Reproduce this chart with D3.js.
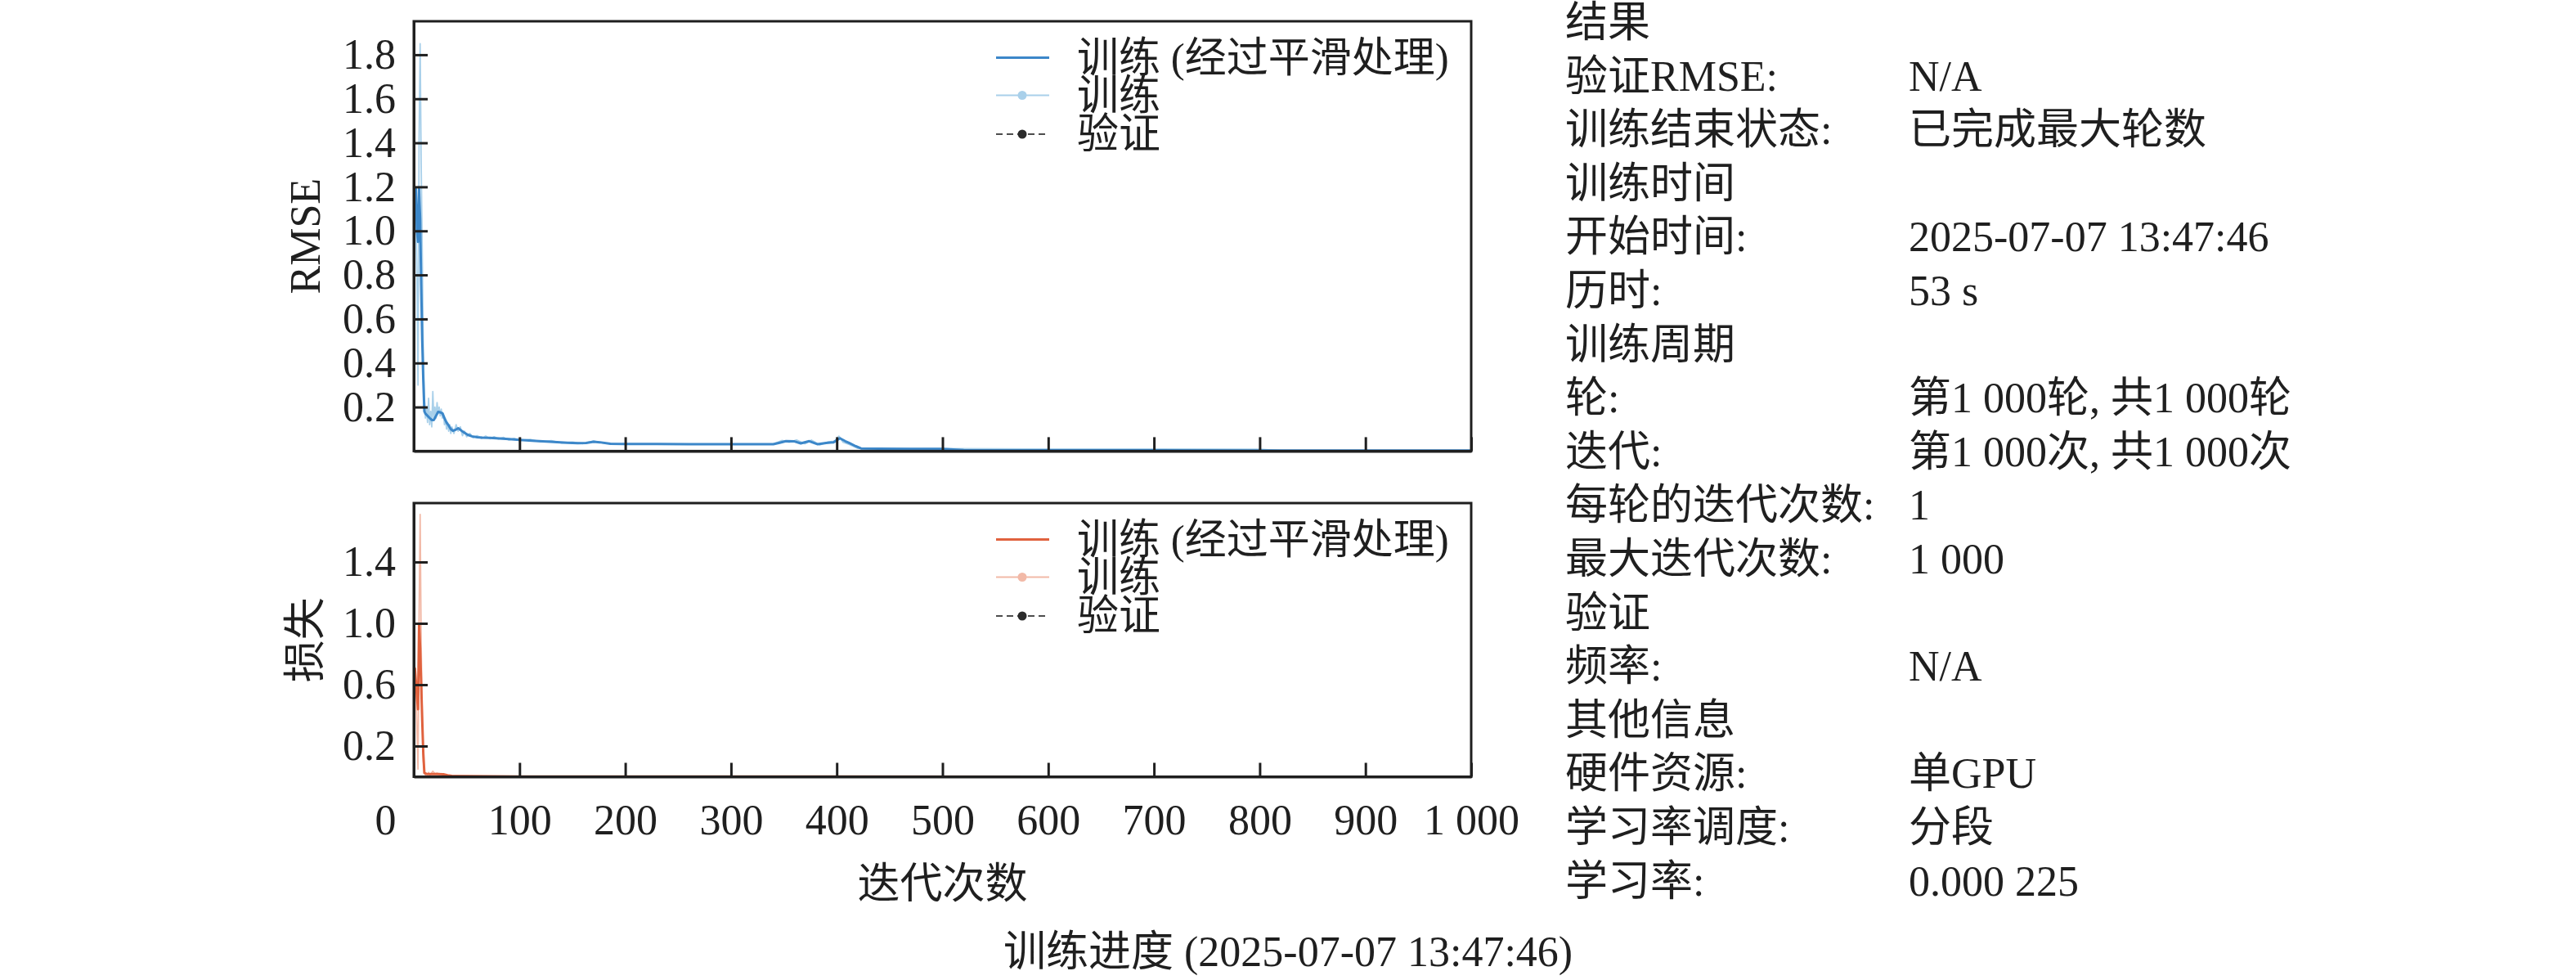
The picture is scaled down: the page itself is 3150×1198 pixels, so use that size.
<!DOCTYPE html>
<html>
<head>
<meta charset="utf-8">
<script src="https://cdn.jsdelivr.net/npm/d3@7"></script>
<style>
  html, body { margin: 0; padding: 0; background: #fff; }
  svg { display: block; }
  text { font-family: "Liberation Serif", "Times New Roman", "Noto Sans CJK SC", serif; fill: #1f1f1f; }
</style>
</head>
<body>
<svg id="chart" width="3150" height="1198"></svg>
<script>
// ---------------- DATA ----------------
const xTicks = [0, 100, 200, 300, 400, 500, 600, 700, 800, 900, 1000];
const xTickLabels = ["0", "100", "200", "300", "400", "500", "600", "700", "800", "900", "1 000"];
const rmseTicks = [0.2, 0.4, 0.6, 0.8, 1.0, 1.2, 1.4, 1.6, 1.8];
const lossTicks = [0.2, 0.6, 1.0, 1.4];

// RMSE smoothed training [iteration, value]
const rmseSmoothed = [
  [1,1.19],[2,1.19],[3,1.0],[4,0.95],[5,1.19],[6,1.05],[7,0.75],[8,0.5],[9,0.32],[10,0.18],
  [11,0.17],[13,0.16],[15,0.15],[17,0.141],[19,0.141],[21,0.16],[23,0.178],[25,0.176],[27,0.172],
  [29,0.15],[31,0.129],[33,0.116],[35,0.1],[37,0.092],[40,0.098],[42,0.104],[45,0.093],[47,0.086],
  [51,0.074],[55,0.067],[60,0.063],[65,0.061],[72,0.06],[78,0.058],[90,0.054],[100,0.051],
  [115,0.046],[129,0.042],[145,0.038],[155,0.036],[163,0.037],[170,0.042],[176,0.04],[186,0.033],
  [200,0.032],[230,0.032],[260,0.031],[300,0.031],[340,0.031],[346,0.038],[352,0.045],[360,0.044],
  [366,0.035],[374,0.045],[382,0.031],[390,0.037],[397,0.04],[403,0.058],[408,0.045],[412,0.036],
  [418,0.022],[423,0.012],[440,0.011],[470,0.01],[500,0.01],[520,0.004],[600,0.003],[700,0.003],
  [800,0.002],[900,0.002],[1000,0.002]
];
// RMSE raw training
const rmseRaw = [
  [1,1.2],[2,1.08],[3,0.78],[4,0.3],[5,1.42],[6,1.85],[7,1.3],[8,0.9],[9,0.45],[10,0.25],
  [11,0.15],[12,0.2],[13,0.13],[14,0.24],[15,0.12],[16,0.18],[17,0.11],[18,0.27],[19,0.14],[20,0.2],
  [21,0.15],[22,0.22],[23,0.17],[24,0.2],[25,0.16],[26,0.19],[27,0.15],[28,0.17],[29,0.12],[30,0.14],
  [31,0.1],[32,0.13],[33,0.09],[34,0.12],[35,0.08],[36,0.11],[38,0.08],[40,0.12],[42,0.09],[44,0.11],
  [46,0.07],[48,0.09],[50,0.065],[53,0.08],[56,0.06],[60,0.07],[64,0.057],[68,0.068],[72,0.056],
  [76,0.065],[80,0.055],[85,0.062],[90,0.05],[95,0.058],[100,0.048],[110,0.053],[120,0.042],
  [130,0.047],[140,0.036],[150,0.041],[160,0.034],[170,0.046],[180,0.035],[190,0.033],[200,0.031],
  [250,0.031],[300,0.031],[340,0.032],[348,0.048],[355,0.04],[362,0.05],[370,0.033],[376,0.05],
  [384,0.028],[392,0.042],[398,0.045],[402,0.068],[406,0.04],[412,0.03],[420,0.012],[450,0.01],
  [500,0.011],[600,0.009],[700,0.009],[800,0.008],[820,0.002],[900,0.002],[1000,0.002]
];
// Loss smoothed training
const lossSmoothed = [
  [1,0.71],[2,0.62],[3,0.52],[4,0.44],[5,0.99],[6,0.84],[7,0.6],[8,0.36],[9,0.15],[10,0.025],
  [12,0.018],[16,0.017],[22,0.017],[28,0.016],[32,0.01],[36,0.006],[50,0.004],[100,0.002],
  [200,0.001],[400,0.0008],[600,0.0003],[800,0.0002],[1000,0.0002]
];
// Loss raw training
const lossRaw = [
  [1,0.72],[2,0.58],[3,0.3],[4,0.05],[5,1.05],[6,1.71],[7,0.85],[8,0.4],[9,0.1],[10,0.03],
  [11,0.011],[12,0.02],[13,0.012],[14,0.028],[15,0.008],[16,0.016],[18,0.036],[20,0.02],[22,0.024],
  [24,0.02],[26,0.018],[28,0.014],[30,0.01],[32,0.007],[36,0.006],[40,0.007],[50,0.003],[100,0.002],
  [200,0.001],[300,0.0005],[400,0.001],[500,0.0001],[1000,0.0001]
];

const legendLabels = ["训练 (经过平滑处理)", "训练", "验证"];
const infoLabels = ["结果","验证RMSE:","训练结束状态:","训练时间","开始时间:","历时:","训练周期","轮:","迭代:",
  "每轮的迭代次数:","最大迭代次数:","验证","频率:","其他信息","硬件资源:","学习率调度:","学习率:"];
const infoValues = ["","N/A","已完成最大轮数","","2025-07-07 13:47:46","53 s","","第1 000轮, 共1 000轮",
  "第1 000次, 共1 000次","1","1 000","","N/A","","单GPU","分段","0.000 225"];
const xLabel = "迭代次数";
const titleText = "训练进度 (2025-07-07 13:47:46)";

// ---------------- LAYOUT ----------------
const svg = d3.select("#chart");
const FS = 52;
const LFS = 51;
const ink = "#1f1f1f";
const left = 506, right = 1799;
const top1 = { y0: 26, y1: 551.4 };
const top2 = { y0: 615, y1: 949.5 };

const x = d3.scaleLinear().domain([0, 1000]).range([left, right]);
const y1 = d3.scaleLinear().domain([0, 1.952]).range([top1.y1, top1.y0]);
const y2 = d3.scaleLinear().domain([0, 1.784]).range([top2.y1, top2.y0]);

const colors = {
  rmseSm: "#3c87c9", rmseRaw: "#a9d0ea",
  lossSm: "#e0623e", lossRaw: "#f2b9a7",
  val: "#4d4d4d", valMk: "#2b2b2b"
};

function panel(id, box, yScale, ticks, smooth, raw, cSm, cRaw, ylabel, showXLabels) {
  const g = svg.append("g");
  const clipId = "clip" + id;
  svg.append("clipPath").attr("id", clipId).append("rect")
    .attr("x", left).attr("y", box.y0).attr("width", right - left).attr("height", box.y1 - box.y0);

  const line = d3.line().x(d => x(d[0])).y(d => yScale(d[1]));
  const lines = g.append("g").attr("clip-path", `url(#${clipId})`);
  lines.append("path").datum(raw).attr("d", line)
    .attr("fill", "none").attr("stroke", cRaw).attr("stroke-width", 1.8).attr("stroke-linejoin", "round");
  lines.append("path").datum(smooth).attr("d", line)
    .attr("fill", "none").attr("stroke", cSm).attr("stroke-width", 3).attr("stroke-linejoin", "round");

  // frame
  g.append("rect").attr("x", left).attr("y", box.y0).attr("width", right - left).attr("height", box.y1 - box.y0)
    .attr("fill", "none").attr("stroke", ink).attr("stroke-width", 3);

  // y axis
  const ya = g.append("g").attr("transform", `translate(${left},0)`)
    .call(d3.axisLeft(yScale).tickValues(ticks).tickFormat(d3.format(".1f")).tickSizeInner(-17).tickSizeOuter(0).tickPadding(22));
  ya.select(".domain").attr("stroke", ink).attr("stroke-width", 3);
  ya.selectAll(".tick line").attr("stroke", ink).attr("stroke-width", 3);
  ya.selectAll(".tick text").attr("font-size", FS).attr("fill", ink)
    .attr("font-family", "'Liberation Serif', 'Times New Roman', serif");

  // x axis
  const xa = g.append("g").attr("transform", `translate(0,${box.y1})`)
    .call(d3.axisBottom(x).tickValues(xTicks)
      .tickFormat((d, i) => showXLabels ? xTickLabels[i] : "")
      .tickSizeInner(-17).tickSizeOuter(0).tickPadding(33.6));
  xa.select(".domain").attr("stroke", ink).attr("stroke-width", 3);
  xa.selectAll(".tick line").attr("stroke", ink).attr("stroke-width", 3);
  xa.selectAll(".tick text").attr("font-size", FS).attr("fill", ink)
    .attr("font-family", "'Liberation Serif', 'Times New Roman', serif");
  if (showXLabels) {
    xa.selectAll(".tick").filter(d => d === 0).select("text")
      .attr("text-anchor", "end").attr("x", -22);
  }

  // y label
  g.append("text").attr("transform", `translate(391,${(box.y0 + box.y1) / 2}) rotate(-90)`)
    .attr("text-anchor", "middle").attr("font-size", FS).text(ylabel);

  // legend
  const lg = g.append("g");
  const lx0 = 1218, lx1 = 1283, lxm = 1250, tx = 1317;
  const ly = [box.y0 + 44.5, box.y0 + 90.5, box.y0 + 138];
  lg.append("line").attr("x1", lx0).attr("x2", lx1).attr("y1", ly[0]).attr("y2", ly[0])
    .attr("stroke", cSm).attr("stroke-width", 3);
  lg.append("line").attr("x1", lx0).attr("x2", lx1).attr("y1", ly[1]).attr("y2", ly[1])
    .attr("stroke", cRaw).attr("stroke-width", 2.2);
  lg.append("circle").attr("cx", lxm).attr("cy", ly[1]).attr("r", 5.5).attr("fill", cRaw);
  lg.append("line").attr("x1", lx0).attr("x2", lx1).attr("y1", ly[2]).attr("y2", ly[2])
    .attr("stroke", colors.val).attr("stroke-width", 2.2).attr("stroke-dasharray", "8,5");
  lg.append("circle").attr("cx", lxm).attr("cy", ly[2]).attr("r", 5.5).attr("fill", colors.valMk);
  legendLabels.forEach((t, i) => {
    lg.append("text").attr("x", tx).attr("y", ly[i] + 17).attr("font-size", LFS).text(t);
  });
}

panel("a", top1, y1, rmseTicks, rmseSmoothed, rmseRaw, colors.rmseSm, colors.rmseRaw, "RMSE", false);
panel("b", top2, y2, lossTicks, lossSmoothed, lossRaw, colors.lossSm, colors.lossRaw, "损失", true);

// x label
svg.append("text").attr("x", (left + right) / 2).attr("y", 1098).attr("text-anchor", "middle")
  .attr("font-size", FS).text(xLabel);
// title
svg.append("text").attr("x", 1227).attr("y", 1181).attr("text-anchor", "start")
  .attr("font-size", FS).text(titleText);

// info panel
const info = svg.append("g");
infoLabels.forEach((t, i) => {
  const yy = 45 + 65.6 * i;
  info.append("text").attr("x", 1914).attr("y", yy).attr("font-size", FS).text(t);
  if (infoValues[i]) info.append("text").attr("x", 2334).attr("y", yy).attr("font-size", FS).text(infoValues[i]);
});
</script>
</body>
</html>
